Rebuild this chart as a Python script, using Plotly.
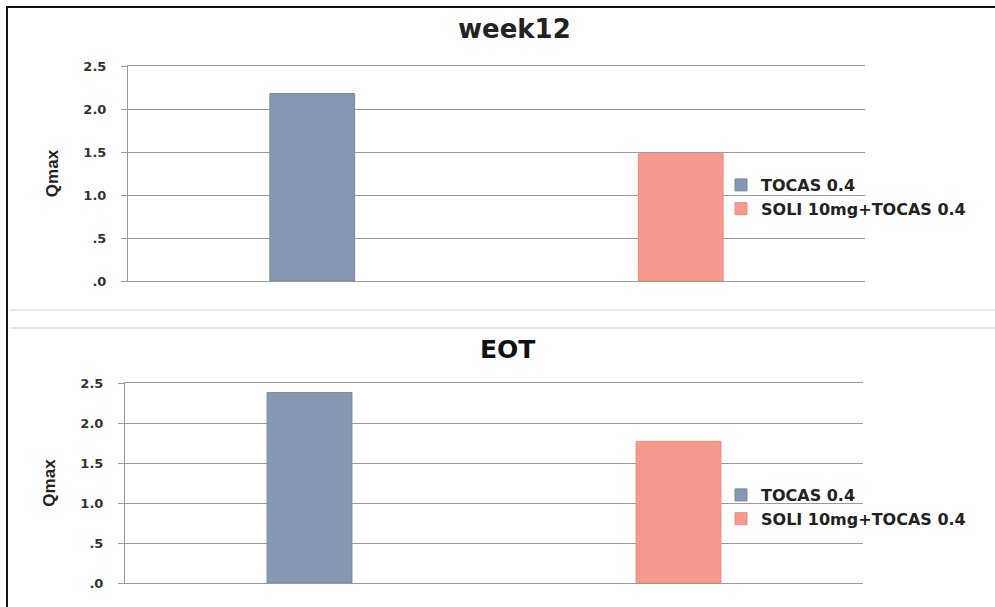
import plotly.graph_objects as go

W, H = 995, 607

series_names = ["TOCAS 0.4", "SOLI 10mg+TOCAS 0.4"]
categories = ["TOCAS 0.4", "SOLI 10mg+TOCAS 0.4"]
week12_values = [2.18, 1.48]
eot_values = [2.38, 1.77]
panel_titles = ["week12", "EOT"]
tick_vals = [0, 0.5, 1.0, 1.5, 2.0, 2.5]
tick_text = [".0", ".5", "1.0", "1.5", "2.0", "2.5"]
colors = ["#8798B3", "#F59A8C"]
edge_colors = ["#7487A3", "#E88C7E"]

def px_x(p):
    return p / W

def px_y(p):
    return 1 - p / H

fig = go.Figure()

panels = [
    dict(vals=week12_values, xa="x", ya="y", legend="legend"),
    dict(vals=eot_values, xa="x2", ya="y2", legend="legend2"),
]

for p in panels:
    for i, name in enumerate(series_names):
        fig.add_trace(go.Bar(
            x=[categories[i]], y=[p["vals"][i]], name=name,
            xaxis=p["xa"], yaxis=p["ya"], legend=p["legend"],
            width=0.23,
            marker=dict(color=colors[i], line=dict(color=edge_colors[i], width=1)),
            hoverinfo="x+y",
        ))

axis_common = dict(
    range=[0, 2.5], tickvals=tick_vals, ticktext=tick_text,
    showgrid=True, gridcolor="#9a9a9a", gridwidth=1,
    showline=True, linecolor="#9a9a9a", linewidth=1,
    ticks="outside", ticklen=6, tickcolor="#9a9a9a",
    tickfont=dict(family="DejaVu Sans", size=13, color="#333333", weight="bold"),
    ticklabelstandoff=12, zeroline=False, automargin=False,
    title=dict(text="Qmax", font=dict(family="Liberation Sans Narrow, Liberation Sans", size=17, color="#222222", weight="bold"), standoff=20),
    fixedrange=True,
)
xaxis_common = dict(showticklabels=False, showgrid=False, showline=True, mirror=True,
                    linecolor="#9a9a9a", linewidth=1, ticks="", automargin=False,
                    categoryorder="array", categoryarray=categories, fixedrange=True)

legend_font = dict(family="DejaVu Sans", size=16, color="#222222", weight="bold")

fig.update_layout(
    width=W, height=H, margin=dict(l=0, r=0, t=0, b=0, autoexpand=False),
    paper_bgcolor="white", plot_bgcolor="white",
    barmode="overlay", showlegend=True,
    xaxis=dict(domain=[px_x(128), px_x(865)], anchor="y", **xaxis_common),
    yaxis=dict(domain=[px_y(281), px_y(66)], anchor="x", **axis_common),
    xaxis2=dict(domain=[px_x(125), px_x(863)], anchor="y2", **xaxis_common),
    yaxis2=dict(domain=[px_y(583), px_y(383)], anchor="x2", **axis_common),
    legend=dict(x=px_x(721), y=px_y(197), xanchor="left", yanchor="middle",
                font=legend_font, bgcolor="rgba(0,0,0,0)", itemwidth=30, tracegroupgap=0),
    legend2=dict(x=px_x(721), y=px_y(507), xanchor="left", yanchor="middle",
                 font=legend_font, bgcolor="rgba(0,0,0,0)", itemwidth=30, tracegroupgap=0),
    annotations=[
        dict(text=panel_titles[0], x=px_x(514), y=px_y(29), xref="paper", yref="paper",
             showarrow=False, xanchor="center", yanchor="middle",
             font=dict(family="DejaVu Sans", size=26, color="#222222", weight="bold")),
        dict(text=panel_titles[1], x=px_x(508), y=px_y(349), xref="paper", yref="paper",
             showarrow=False, xanchor="center", yanchor="middle",
             font=dict(family="DejaVu Sans", size=25, color="#111111", weight="bold")),
    ],
    shapes=[
        dict(type="line", xref="paper", yref="paper", x0=px_x(6), x1=1, y0=px_y(7), y1=px_y(7),
             line=dict(color="#111111", width=2)),
        dict(type="line", xref="paper", yref="paper", x0=px_x(7), x1=px_x(7), y0=px_y(6), y1=0,
             line=dict(color="#111111", width=2)),
        dict(type="line", xref="paper", yref="paper", x0=px_x(10), x1=1, y0=px_y(310), y1=px_y(310),
             line=dict(color="#d4d4d4", width=1)),
        dict(type="line", xref="paper", yref="paper", x0=px_x(10), x1=1, y0=px_y(328), y1=px_y(328),
             line=dict(color="#cfcfcf", width=1)),
    ],
)

fig.write_html("out.html")
